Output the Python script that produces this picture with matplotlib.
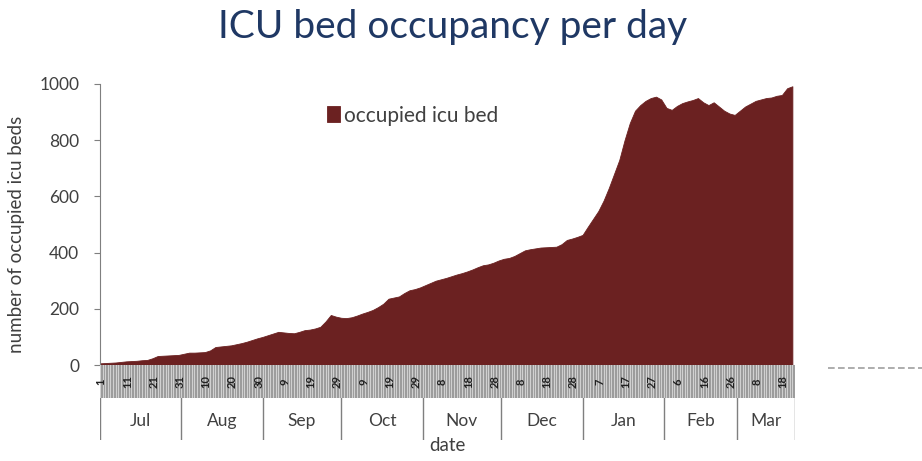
import matplotlib.pyplot as plt
import pandas as pd

# occupied ICU beds, one reading every 2 days starting 1 Jul
start = "2020-07-01"
occupied = [6, 7, 8, 9, 11, 13, 14, 15, 17, 18, 24, 32, 33, 34, 35, 36, 40, 44, 44, 45,
            46, 52, 64, 66, 68, 70, 74, 78, 83, 89, 95, 100, 106, 112, 118, 116, 114, 113, 118, 124,
            126, 130, 136, 155, 178, 172, 168, 167, 170, 176, 183, 189, 196, 206, 218, 236, 240, 244, 256, 266,
            270, 276, 284, 292, 300, 305, 310, 316, 322, 327, 333, 340, 348, 355, 358, 364, 372, 378, 381, 388,
            398, 408, 412, 415, 418, 419, 420, 421, 430, 445, 450, 456, 463, 492, 520, 548, 585, 630, 680, 730,
            800, 861, 905, 925, 940, 950, 955, 945, 915, 908, 922, 932, 938, 943, 950, 935, 925, 935, 920, 905,
            895, 890, 905, 920, 930, 940, 945, 950, 952, 958, 961, 985, 992]
months = ["Jul", "Aug", "Sep", "Oct", "Nov", "Dec", "Jan", "Feb", "Mar"]
yticks = [0, 200, 400, 600, 800, 1000]

dates = pd.date_range(start, periods=len(occupied), freq="2D")
t0 = pd.Timestamp(start)
t1 = dates[-1] + pd.Timedelta(days=1)

W, H = 922, 461
fig = plt.figure(figsize=(W / 100, H / 100), dpi=100)
plt.rcParams["font.family"] = "Lato"

red = "#6b2121"
gray = "#7f7f7f"
txt = "#404040"

def box(l, t, r, b):
    return [l / W, 1 - b / H, (r - l) / W, (b - t) / H]

ax = fig.add_axes(box(100, 84, 795, 365))
ax.fill_between(dates, occupied, 0, color=red, linewidth=0.6, edgecolor=red, label="occupied icu bed")
ax.set_xlim(t0, t1)
ax.set_ylim(0, 1000)
ax.set_yticks(yticks)
ax.tick_params(axis="y", labelsize=12.5, colors=gray, labelcolor=txt, length=4, direction="out", pad=11)
ax.set_xticks([])
for s in ["top", "right", "bottom"]:
    ax.spines[s].set_visible(False)
ax.spines["left"].set_color(gray)
ax.set_ylabel("number of occupied icu beds", fontsize=13.5, color=txt)
ax.yaxis.set_label_coords(-0.108, 0.466)
ax.legend(loc="upper left", bbox_to_anchor=(0.3, 0.99), frameon=False, fontsize=15,
          handlelength=0.6, handleheight=0.8, handletextpad=0.2, labelcolor=txt)

# gray day-number band
band = fig.add_axes(box(100, 365, 795, 398))
band.set_facecolor("#9a9a9a")
days = pd.date_range(t0, t1, freq="D")
for d in days:
    band.axvline(d, color="#d0d0d0", linewidth=0.8)
ten = pd.date_range(t0, t1, freq="10D")
for d in ten:
    band.text(d + pd.Timedelta(days=0.5), 0.5, str(d.day), rotation=90, ha="center", va="center",
              fontsize=8, fontweight="bold", color="#202020", transform=band.get_xaxis_transform())
band.set_xlim(t0, t1)
band.set_xticks([])
band.set_yticks([])
for s in band.spines.values():
    s.set_visible(False)

# month band
mon = fig.add_axes(box(100, 398, 795, 440))
mstarts = list(pd.date_range(t0, t1, freq="MS")) + [t1]
for d in mstarts:
    mon.axvline(d, color=gray, linewidth=1)
for a, b, name in zip(mstarts[:-1], mstarts[1:], months):
    mon.text(a + (b - a) / 2, 0.45, name, ha="center", va="center", fontsize=12.5,
             color=txt, transform=mon.get_xaxis_transform())
mon.set_xlim(t0, t1)
mon.set_xticks([])
mon.set_yticks([])
for s in mon.spines.values():
    s.set_visible(False)
mon.set_xlabel("date", fontsize=13.5, color=txt, labelpad=-2)

fig.text(453 / W, 1 - 27 / H, "ICU bed occupancy per day", ha="center", va="center",
         fontsize=28, color="#1f3864")
fig.add_artist(plt.Line2D([828 / W, 1], [1 - 368 / H] * 2, color="#a0a0a0", linestyle=(0, (4, 2)),
                          linewidth=1.2))

fig.savefig("out.png", dpi=100)
